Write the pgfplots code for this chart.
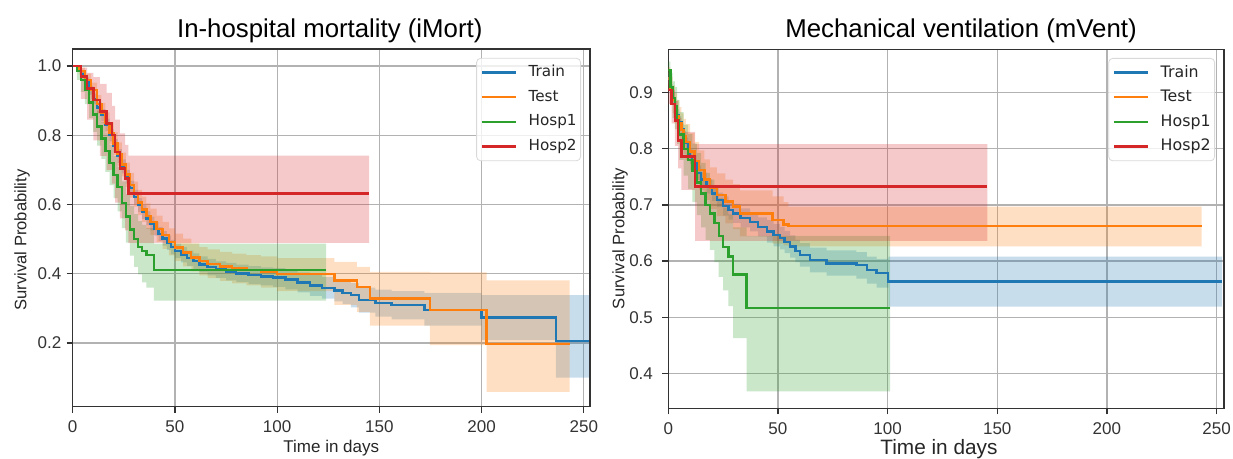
\documentclass[border=0pt]{standalone}
\usepackage{fontspec}
\setmainfont{Liberation Sans}
\newfontfamily\legfont{DejaVu Sans}
\usepackage{pgfplots}
\usepackage{pgfplotstable}
\pgfplotsset{compat=1.18}
\usepgfplotslibrary{fillbetween}
\definecolor{ctrain}{HTML}{1F77B4}
\definecolor{ctest}{HTML}{FF7F0E}
\definecolor{chospa}{HTML}{2CA02C}
\definecolor{chospb}{HTML}{D62728}

% ---------- in-hospital mortality: t  survival  lower  upper ----------
\pgfplotstableread{
t s lo hi
0 1.000 1.000 1.000
2 0.990 0.985 0.995
4 0.975 0.965 0.985
6 0.955 0.943 0.967
8 0.930 0.917 0.943
10 0.905 0.890 0.920
12 0.880 0.864 0.896
14 0.858 0.841 0.875
16 0.830 0.812 0.848
18 0.800 0.782 0.818
20 0.770 0.751 0.789
22 0.740 0.720 0.760
24 0.710 0.690 0.730
26 0.680 0.660 0.700
28 0.648 0.628 0.668
30 0.622 0.602 0.642
32 0.598 0.578 0.618
34 0.578 0.558 0.598
36 0.560 0.540 0.580
38 0.545 0.525 0.565
40 0.530 0.510 0.550
42 0.515 0.495 0.535
44 0.502 0.481 0.523
46 0.490 0.469 0.511
48 0.477 0.456 0.498
50 0.466 0.445 0.487
53 0.455 0.433 0.477
56 0.445 0.423 0.467
59 0.436 0.413 0.459
62 0.427 0.404 0.450
66 0.419 0.395 0.443
70 0.412 0.388 0.436
75 0.406 0.381 0.431
80 0.401 0.376 0.426
86 0.396 0.370 0.422
92 0.392 0.366 0.418
98 0.389 0.362 0.416
104 0.383 0.355 0.411
110 0.375 0.346 0.404
116 0.366 0.336 0.396
122 0.359 0.328 0.390
128 0.352 0.320 0.384
132 0.345 0.312 0.378
136 0.338 0.303 0.373
140 0.324 0.288 0.360
148 0.315 0.276 0.354
156 0.309 0.268 0.350
172 0.295 0.250 0.345
200 0.274 0.208 0.338
236.3 0.206 0.100 0.338
252.6 0.206 0.100 0.338
}\trainL

\pgfplotstableread{
t s lo hi
0 1.000 1.000 1.000
3 0.985 0.975 0.995
6 0.960 0.940 0.978
9 0.930 0.905 0.952
12 0.890 0.862 0.916
14 0.865 0.835 0.893
16 0.836 0.805 0.866
18 0.806 0.774 0.837
20 0.776 0.743 0.808
22 0.746 0.712 0.779
24 0.716 0.681 0.750
26 0.686 0.651 0.721
28 0.656 0.620 0.691
30 0.630 0.594 0.666
32 0.606 0.569 0.642
34 0.586 0.549 0.623
36 0.566 0.529 0.603
38 0.550 0.512 0.588
41 0.530 0.492 0.568
44 0.511 0.472 0.550
47 0.492 0.453 0.531
50 0.476 0.437 0.516
54 0.461 0.421 0.501
58 0.447 0.407 0.488
62 0.436 0.395 0.477
66 0.428 0.387 0.470
72 0.421 0.379 0.463
78 0.415 0.372 0.458
85 0.410 0.366 0.454
92 0.405 0.360 0.450
100 0.400 0.350 0.445
128 0.381 0.310 0.434
139 0.362 0.290 0.420
145.4 0.329 0.250 0.405
174.7 0.295 0.194 0.404
202.4 0.197 0.059 0.381
243 0.197 0.059 0.381
}\testL

\pgfplotstableread{
t s lo hi
0 1.000 1.000 1.000
2 0.985 0.960 1.000
4 0.960 0.925 0.985
6 0.930 0.890 0.962
8 0.895 0.850 0.932
10 0.860 0.810 0.902
12 0.825 0.770 0.870
14 0.790 0.732 0.838
16 0.755 0.694 0.805
18 0.720 0.656 0.772
20 0.685 0.618 0.740
22 0.650 0.580 0.708
24 0.605 0.532 0.667
26 0.565 0.490 0.630
28 0.528 0.452 0.596
30 0.500 0.420 0.572
32 0.478 0.398 0.552
34 0.465 0.375 0.541
36 0.454 0.360 0.532
39.7 0.410 0.322 0.487
124 0.410 0.322 0.487
}\hospaL

\pgfplotstableread{
t s lo hi
0 1.000 1.000 1.000
4 0.970 0.905 0.995
7 0.935 0.845 0.980
10.1 0.902 0.785 0.968
13.3 0.868 0.740 0.948
16.6 0.834 0.700 0.922
19.1 0.800 0.660 0.885
20.7 0.752 0.605 0.845
23.1 0.704 0.560 0.805
25.6 0.675 0.525 0.772
27.2 0.632 0.489 0.741
145 0.632 0.489 0.741
}\hospbL

% ---------- mechanical ventilation ----------
\pgfplotstableread{
t s lo hi
0 0.925 0.915 0.935
1 0.905 0.895 0.915
2 0.890 0.880 0.900
3 0.875 0.865 0.885
4 0.860 0.850 0.870
5 0.848 0.838 0.858
6 0.835 0.825 0.845
7 0.822 0.812 0.832
8 0.810 0.800 0.820
9 0.798 0.788 0.808
10 0.786 0.773 0.799
11 0.775 0.762 0.788
12.9 0.757 0.744 0.770
15 0.745 0.732 0.758
17.5 0.733 0.720 0.746
20 0.720 0.707 0.733
22.1 0.709 0.696 0.722
25 0.698 0.681 0.715
27.5 0.691 0.674 0.708
29.6 0.685 0.668 0.702
33 0.677 0.660 0.694
37.3 0.670 0.653 0.687
41 0.661 0.644 0.678
44.9 0.653 0.633 0.673
48 0.646 0.626 0.666
50.9 0.641 0.621 0.661
53 0.634 0.614 0.654
55.5 0.626 0.606 0.646
58 0.618 0.598 0.638
60 0.611 0.590 0.632
64.6 0.602 0.580 0.624
72.2 0.596 0.574 0.619
85.8 0.593 0.569 0.616
90.5 0.584 0.560 0.608
95 0.579 0.553 0.604
100.3 0.564 0.519 0.608
252.5 0.564 0.519 0.608
}\trainR

\pgfplotstableread{
t s lo hi
0 0.925 0.905 0.945
1 0.905 0.882 0.928
2 0.888 0.863 0.913
3 0.872 0.845 0.899
4 0.858 0.830 0.886
5 0.845 0.816 0.874
6 0.833 0.803 0.863
7 0.822 0.791 0.853
8 0.812 0.780 0.844
10 0.795 0.762 0.828
12 0.778 0.744 0.812
14 0.762 0.727 0.797
16.5 0.745 0.709 0.781
18.9 0.730 0.693 0.767
22.1 0.718 0.680 0.756
26 0.706 0.667 0.745
29.6 0.697 0.657 0.737
32.6 0.685 0.644 0.726
47.6 0.673 0.631 0.715
52.6 0.665 0.628 0.705
54.8 0.663 0.626 0.697
243.2 0.663 0.626 0.697
}\testR

\pgfplotstableread{
t s lo hi
0 0.940 0.925 0.955
1 0.910 0.880 0.935
2 0.890 0.855 0.920
3 0.875 0.835 0.910
4 0.850 0.808 0.887
5 0.825 0.780 0.865
7 0.800 0.752 0.843
9 0.780 0.728 0.826
11 0.760 0.705 0.809
13 0.740 0.682 0.792
15 0.720 0.660 0.775
17 0.700 0.638 0.757
19 0.685 0.620 0.745
21 0.668 0.598 0.731
23 0.645 0.572 0.712
25 0.625 0.548 0.695
27.4 0.608 0.520 0.683
29.6 0.576 0.463 0.660
35.7 0.516 0.368 0.645
101.1 0.516 0.368 0.645
}\hospaR

\pgfplotstableread{
t s lo hi
0 0.905 0.880 0.925
1.5 0.880 0.845 0.905
3 0.850 0.805 0.885
4.5 0.815 0.765 0.855
6 0.786 0.727 0.830
12.2 0.733 0.636 0.808
145.5 0.733 0.636 0.808
}\hospbR

\pgfplotsset{
  legend image code/.code={\draw[#1, line width=1.2pt] (0pt,0pt) -- (17pt,0pt);},
  kmaxis/.style={
    scale only axis, anchor=south west, xmin=0,
    axis line style={black!80, line width=0.75pt},
    tick align=outside, major tick length=3pt, tick pos=left,
    tick style={black!80, line width=0.6pt},
    xmajorgrids, ymajorgrids, grid style={black!30, line width=0.6pt},
    xtick={0,50,100,150,200,250},
    /pgf/number format/assume math mode=true,
    ticklabel style={font=\fontsize{8.5}{10}\selectfont, text=black!80, inner sep=0pt},
    xticklabel shift=4pt,
    yticklabel style={/pgf/number format/fixed, /pgf/number format/fixed zerofill, /pgf/number format/precision=1},
    legend cell align=left,
    legend style={anchor=north east, draw=black!15, rounded corners=2pt,
      fill=white, fill opacity=0.8, text opacity=1, text=black!85,
      inner xsep=2pt, inner ysep=1pt, row sep=0pt, column sep=5.8pt,
      nodes={inner xsep=0pt, inner ysep=0pt, minimum height=12.3pt}},
  }
}

\newcommand{\kmband}[3]{%
  \addplot[const plot, draw=none, forget plot, name path=#3lo] table[x=t, y=lo] {#1};
  \addplot[const plot, draw=none, forget plot, name path=#3hi] table[x=t, y=hi] {#1};
  \addplot[fill=#2, fill opacity=0.25, draw=none, forget plot] fill between[of=#3lo and #3hi];
  \addplot[const plot, #2, line width=1.2pt] table[x=t, y=s] {#1};
}

\begin{document}
\begin{tikzpicture}[every node/.style={inner sep=0pt}]

\begin{axis}[kmaxis, at={(36.35pt,26.15pt)}, width=258.65pt, height=178.85pt,
    xmax=253, ymin=0.016, ymax=1.049, ytick={0.2,0.4,0.6,0.8,1.0},
    yticklabel shift=2.5pt,
    legend style={at={(0.9826,0.975)}, font=\legfont\fontsize{7.6}{9}\selectfont}]
  \kmband{\trainL}{ctrain}{a}
  \addlegendentry{Train}
  \kmband{\testL}{ctest}{b}
  \addlegendentry{Test}
  \kmband{\hospaL}{chospa}{c}
  \addlegendentry{Hosp1}
  \kmband{\hospbL}{chospb}{d}
  \addlegendentry{Hosp2}
\end{axis}

\begin{axis}[kmaxis, at={(334.15pt,25.35pt)}, width=277.85pt, height=179.5pt,
    xmax=253.4, ymin=0.338, ymax=0.977, ytick={0.4,0.5,0.6,0.7,0.8,0.9},
    yticklabel shift=4.5pt,
    legend style={at={(0.9838,0.9758)}, font=\legfont\fontsize{7.9}{9}\selectfont}]
  \kmband{\trainR}{ctrain}{e}
  \addlegendentry{Train}
  \kmband{\testR}{ctest}{f}
  \addlegendentry{Test}
  \kmband{\hospaR}{chospa}{g}
  \addlegendentry{Hosp1}
  \kmband{\hospbR}{chospb}{h}
  \addlegendentry{Hosp2}
\end{axis}

\node[anchor=base west, font=\fontsize{12.9}{15}\selectfont] at (88.35pt,210.5pt) {In-hospital mortality (iMort)};
\node[anchor=base west, font=\fontsize{12.9}{15}\selectfont] at (392.5pt,210.5pt) {Mechanical ventilation (mVent)};
\node[anchor=base west, font=\fontsize{8.5}{10}\selectfont, text=black!85] at (141.5pt,3pt) {Time in days};
\node[anchor=base west, font=\fontsize{10.4}{12}\selectfont, text=black!85] at (440pt,2pt) {Time in days};
\node[rotate=90, font=\fontsize{8.3}{10}\selectfont, text=black!85] at (11pt,109.5pt) {Survival Probability};
\node[rotate=90, font=\fontsize{8.3}{10}\selectfont, text=black!85] at (310pt,110.25pt) {Survival Probability};

\pgfresetboundingbox
\path[use as bounding box] (0,0) rectangle (616.5pt,229.5pt);
\end{tikzpicture}
\end{document}
